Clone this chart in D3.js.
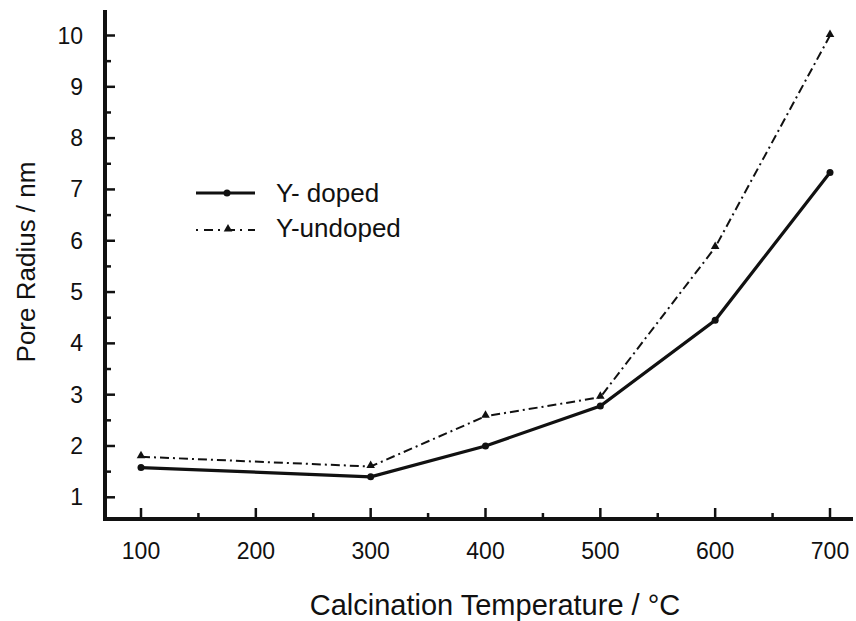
<!DOCTYPE html>
<html><head><meta charset="utf-8">
<script src="https://cdn.jsdelivr.net/npm/d3@7"></script>
<style>body{margin:0;background:#fff}svg{display:block}text{font-family:"Liberation Sans",Arial,sans-serif;fill:#111}</style>
</head><body>
<svg id="c" width="856" height="621"></svg>
<script>
const temps = [100, 300, 400, 500, 600, 700];
const doped = [1.58, 1.40, 2.00, 2.78, 4.45, 7.33];
const undoped = [1.79, 1.60, 2.58, 2.95, 5.87, 10.0];
const xTicks = [100, 200, 300, 400, 500, 600, 700];
const yTicks = [1, 2, 3, 4, 5, 6, 7, 8, 9, 10];
const seriesNames = ["Y- doped", "Y-undoped"];

const svg = d3.select("#c");
const x = d3.scaleLinear().domain([100, 700]).range([141, 830]);
const y = d3.scaleLinear().domain([1, 10]).range([497.3, 35.5]);
const x0 = 105, yb = 519;

const g = svg.append("g");
g.selectAll(".ymin").data(d3.range(1.5, 10, 1)).enter().append("line")
  .attr("x1", x0).attr("x2", x0 + 6).attr("y1", d => y(d)).attr("y2", d => y(d))
  .attr("stroke", "#111").attr("stroke-width", 2.5);
g.selectAll(".ymaj").data(yTicks).enter().append("line")
  .attr("x1", x0).attr("x2", x0 + 10).attr("y1", d => y(d)).attr("y2", d => y(d))
  .attr("stroke", "#111").attr("stroke-width", 2.5);
g.selectAll(".xmin").data(d3.range(150, 700, 100)).enter().append("line")
  .attr("x1", d => x(d)).attr("x2", d => x(d)).attr("y1", yb).attr("y2", yb - 6)
  .attr("stroke", "#111").attr("stroke-width", 2.5);
g.selectAll(".xmaj").data(xTicks).enter().append("line")
  .attr("x1", d => x(d)).attr("x2", d => x(d)).attr("y1", yb).attr("y2", yb - 11)
  .attr("stroke", "#111").attr("stroke-width", 2.5);

svg.append("line").attr("x1", x0).attr("x2", x0).attr("y1", 10).attr("y2", yb + 2)
  .attr("stroke", "#111").attr("stroke-width", 4);
svg.append("line").attr("x1", x0 - 2).attr("x2", 853).attr("y1", yb).attr("y2", yb)
  .attr("stroke", "#111").attr("stroke-width", 4);

svg.selectAll(".yl").data(yTicks).enter().append("text")
  .attr("x", 83).attr("y", d => y(d) + 8).attr("text-anchor", "end")
  .attr("font-size", 23).text(d => d);
svg.selectAll(".xl").data(xTicks).enter().append("text")
  .attr("x", d => x(d)).attr("y", 559).attr("text-anchor", "middle")
  .attr("font-size", 23).text(d => d);

svg.append("text").attr("x", 495).attr("y", 615).attr("text-anchor", "middle")
  .attr("font-size", 29).text("Calcination Temperature / \u00B0C");
svg.append("text").attr("transform", "translate(35,262) rotate(-90)")
  .attr("text-anchor", "middle").attr("font-size", 26).text("Pore Radius / nm");

const line = d3.line().x((d, i) => x(temps[i])).y(d => y(d));
svg.append("path").datum(undoped).attr("d", line).attr("fill", "none")
  .attr("stroke", "#111").attr("stroke-width", 2).attr("stroke-dasharray", "9,4,2,4");
svg.append("path").datum(doped).attr("d", line).attr("fill", "none")
  .attr("stroke", "#111").attr("stroke-width", 3.2);

const tri = d3.symbol().type(d3.symbolTriangle).size(32);
svg.selectAll(".tri").data(undoped).enter().append("path")
  .attr("d", tri).attr("transform", (d, i) => `translate(${x(temps[i])},${y(d) - 1})`)
  .attr("fill", "#111");
svg.selectAll(".dot").data(doped).enter().append("circle")
  .attr("cx", (d, i) => x(temps[i])).attr("cy", d => y(d)).attr("r", 3.5).attr("fill", "#111");

const lg = svg.append("g");
lg.append("line").attr("x1", 196).attr("x2", 255).attr("y1", 193).attr("y2", 193)
  .attr("stroke", "#111").attr("stroke-width", 3.2);
lg.append("circle").attr("cx", 227).attr("cy", 193).attr("r", 3.5).attr("fill", "#111");
lg.append("line").attr("x1", 196).attr("x2", 255).attr("y1", 230).attr("y2", 230)
  .attr("stroke", "#111").attr("stroke-width", 2).attr("stroke-dasharray", "2,6,9,5");
lg.append("path").attr("d", tri).attr("transform", "translate(228,229)").attr("fill", "#111");
lg.append("text").attr("x", 276).attr("y", 202).attr("font-size", 26).text(seriesNames[0]);
lg.append("text").attr("x", 276).attr("y", 237).attr("font-size", 26).text(seriesNames[1]);
</script>
</body></html>
